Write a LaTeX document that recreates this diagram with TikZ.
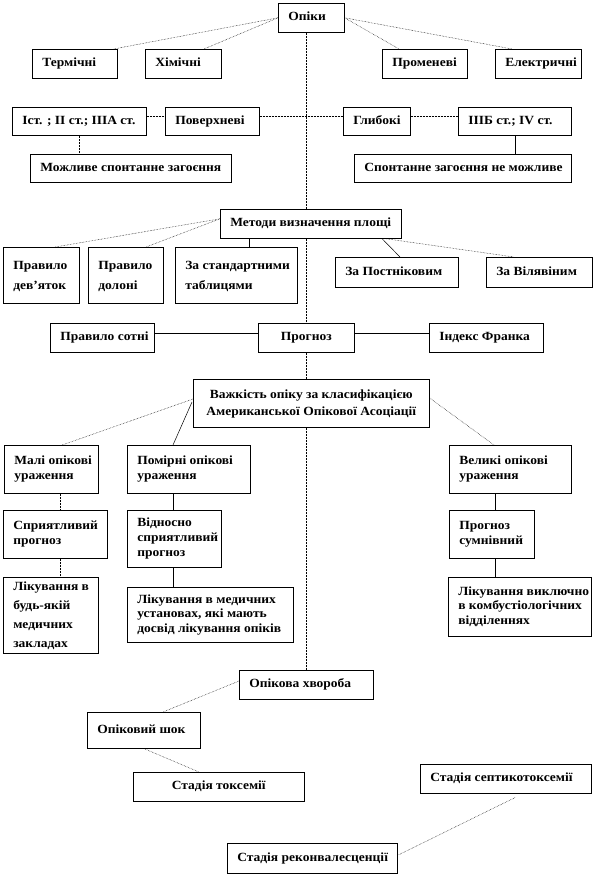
\documentclass[tikz,border=0pt]{standalone}
\usepackage{fontspec}
\setmainfont[FakeStretch=1.08]{Liberation Serif}
\usetikzlibrary{calc}
\tikzset{
  bbox/.style={draw, line width=0.6pt, inner xsep=10pt, inner ysep=0pt, anchor=north west},
  dl/.style={line width=0.5pt, densely dotted},
  sl/.style={line width=0.5pt},
}
\newcommand\bx[8]{%
  \pgfmathsetmacro\bw{#4-#2}\pgfmathsetmacro\bh{#5-#3}\pgfmathsetmacro\tw{#4-#2-20}%
  \node[bbox, minimum width=\bw pt, minimum height=\bh pt,
        font=\bfseries\fontsize{12.5}{#7}\selectfont] (#1) at (#2,#3)
        {\makebox[\tw pt][#6]{\begin{tabular}{@{}#6@{}}#8\end{tabular}}};}
\begin{document}
\begin{tikzpicture}[x=1pt,y=-1pt]
\useasboundingbox (0,0) rectangle (593,875);
\bx{opiki}{278}{3}{344}{32}{l}{15}{Опіки}
\bx{term}{32}{49}{117}{78}{l}{15}{Термічні}
\bx{khim}{145}{49}{221}{78}{l}{15}{Хімічні}
\bx{prom}{382}{49}{467}{78}{l}{15}{Променеві}
\bx{elek}{495}{49}{581}{78}{l}{15}{Електричні}
\bx{ist}{12}{107}{146}{135}{l}{15}{Іст. ; ІІ ст.; ІІІА ст.}
\bx{pov}{165}{107}{259}{135}{l}{15}{Поверхневі}
\bx{glyb}{343}{107}{410}{135}{l}{15}{Глибокі}
\bx{iiib}{458}{107}{571}{135}{l}{15}{ІІІБ ст.; IV ст.}
\bx{mozhl}{30}{154}{231}{182}{l}{15}{Можливе спонтанне загоєння}
\bx{spont}{354}{154}{571}{182}{l}{15}{Спонтанне загоєння не можливе}
\bx{metody}{220}{209}{401}{238}{l}{15}{Методи визначення площі}
\bx{devyat}{3}{247}{79}{303}{l}{20}{Правило\\дев’яток}
\bx{dolon}{88}{247}{163}{303}{l}{20}{Правило\\долоні}
\bx{stand}{175}{247}{297}{303}{l}{20}{За стандартними\\таблицями}
\bx{post}{335}{257}{458}{287}{l}{15}{За Постніковим}
\bx{vil}{486}{257}{592}{287}{l}{15}{За Вілявіним}
\bx{sotni}{50}{323}{154}{352}{l}{15}{Правило сотні}
\bx{progn}{258}{323}{354}{352}{c}{15}{Прогноз}
\bx{index}{429}{323}{543}{352}{l}{15}{Індекс Франка}
\bx{vazh}{193}{379}{429}{427}{c}{17}{Важкість опіку за класифікацією\\Американської Опікової Асоціації}
\bx{mali}{4}{445}{98}{493}{l}{15}{Малі опікові\\ураження}
\bx{pomir}{127}{445}{250}{493}{l}{15}{Помірні опікові\\ураження}
\bx{velyk}{449}{445}{571}{493}{l}{15}{Великі опікові\\ураження}
\bx{spry}{3}{510}{107}{558}{l}{15}{Сприятливий\\прогноз}
\bx{vidn}{127}{510}{221}{567}{l}{15}{Відносно\\сприятливий\\прогноз}
\bx{sumn}{449}{510}{534}{558}{l}{15}{Прогноз\\сумнівний}
\bx{likb}{3}{577}{98}{653}{l}{19}{Лікування в\\будь-якій\\медичних\\закладах}
\bx{likm}{127}{587}{293}{642}{l}{14.5}{Лікування в медичних\\установах, які мають\\досвід лікування опіків}
\bx{likv}{448}{577}{591}{636}{l}{14.5}{Лікування виключно\\в комбустіологічних\\відділеннях}
\bx{khvor}{239}{670}{373}{699}{l}{15}{Опікова хвороба}
\bx{shok}{87}{712}{200}{748}{l}{15}{Опіковий шок}
\bx{toks}{133}{772}{304}{801}{c}{15}{Стадія токсемії}
\bx{sept}{420}{764}{591}{793}{l}{15}{Стадія септикотоксемії}
\bx{rekon}{227}{843}{397}{873}{l}{15}{Стадія реконвалесценції}
% connectors
\draw[dl] (opiki.west) -- ($(term.north east)+(-4,0)$);
\draw[dl] (opiki.west) -- ($(khim.north west)+(59,0)$);
\draw[dl] (opiki.east) -- ($(prom.north west)+(17,0)$);
\draw[dl] (opiki.east) -- ($(elek.north west)+(17,0)$);
\coordinate (vx) at ($(opiki.south)+(-5,0)$);
\draw[dl] (vx) -- (vx |- metody.north);
\draw[dl] (vx |- metody.south) -- (vx |- progn.north);
\draw[dl] (vx |- progn.south) -- (vx |- vazh.north);
\draw[dl] (vx |- vazh.south) -- (vx |- khvor.north);
\draw[dl] ($(ist.east)+(0,-5)$) -- ($(pov.west)+(0,-5)$);
\draw[dl] ($(pov.east)+(0,-5)$) -- ($(glyb.west)+(0,-5)$);
\draw[dl] ($(glyb.east)+(0,-5)$) -- ($(iiib.west)+(0,-5)$);
\draw[dl] (ist.south) -- (ist.south |- mozhl.north);
\draw[sl] (iiib.south) -- (iiib.south |- spont.north);
\draw[dl] ($(metody.west)+(0,-5)$) -- ($(devyat.north west)+(52,0)$);
\draw[dl] ($(metody.west)+(0,-5)$) -- ($(dolon.north west)+(58,0)$);
\coordinate (mb) at ($(metody.south west)+(29,0)$);
\draw[sl] (mb) -- (mb |- stand.north);
\draw[sl] ($(metody.south west)+(162,0)$) -- ($(post.north west)+(65,0)$);
\draw[dl] ($(metody.south west)+(165,0)$) -- ($(vil.north west)+(28,0)$);
\draw[sl] ($(sotni.east)+(0,-5)$) -- ($(progn.west)+(0,-5)$);
\draw[sl] ($(progn.east)+(0,-5)$) -- ($(index.west)+(0,-5)$);
\draw[dl] ($(vazh.north west)+(0,20)$) -- ($(mali.north west)+(58,0)$);
\draw[sl] ($(vazh.north west)+(-1,23)$) -- ($(pomir.north west)+(46,0)$);
\draw[dl] ($(vazh.north east)+(0,19)$) -- ($(velyk.north west)+(45,0)$);
\coordinate (c1) at ($(mali.south west)+(56,0)$);
\coordinate (c2) at ($(pomir.south west)+(46,0)$);
\coordinate (c3) at ($(velyk.south west)+(46,0)$);
\draw[dl] (c1) -- (c1 |- spry.north);
\draw[sl] (c2) -- (c2 |- vidn.north);
\draw[sl] (c3) -- (c3 |- sumn.north);
\draw[dl] (c1 |- spry.south) -- (c1 |- likb.north);
\draw[sl] (c2 |- vidn.south) -- (c2 |- likm.north);
\draw[sl] (c3 |- sumn.south) -- (c3 |- likv.north);
\draw[dl] ($(khvor.north west)+(0,11)$) -- ($(shok.north west)+(76,0)$);
\draw[dl] ($(shok.south west)+(57,0)$) -- ($(toks.north west)+(66,0)$);
\draw[dl] ($(toks.east)+(0,-2)$) -- ($(toks.east)+(0,-2)$ -| sept.west);
\draw[dl] ($(sept.south west)+(95,4)$) -- ($(rekon.east)+(0,-3)$);
\end{tikzpicture}
\end{document}
